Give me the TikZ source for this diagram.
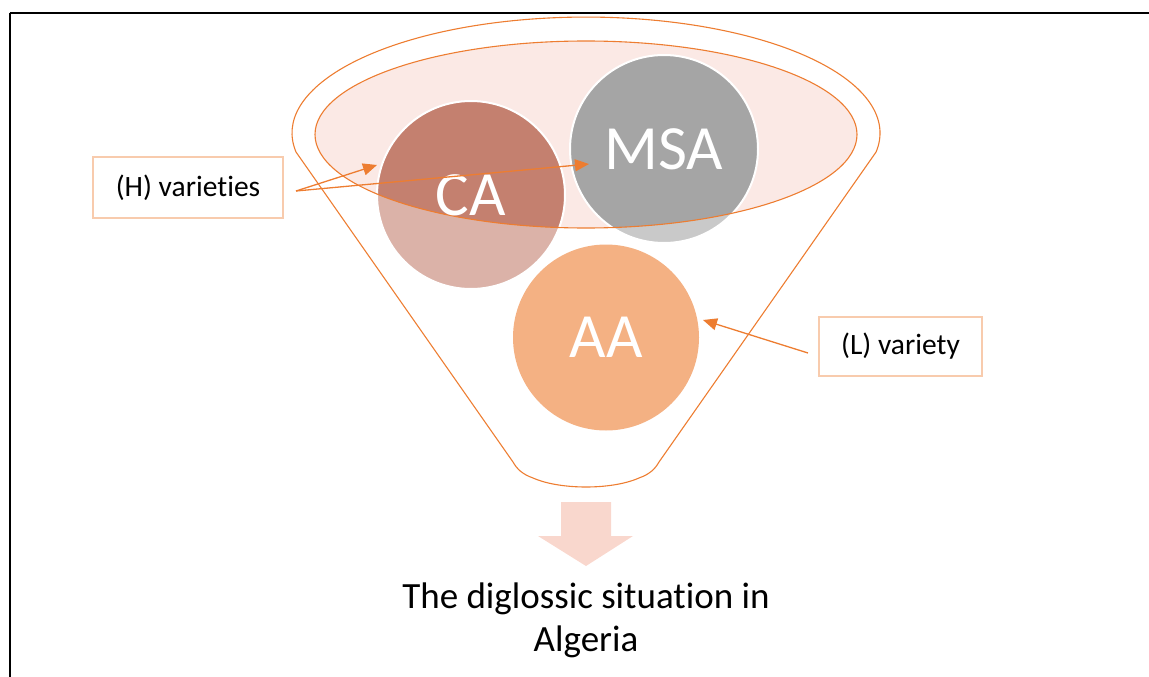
\documentclass[tikz,border=0pt]{standalone}
\usepackage{fontspec}
\setmainfont{Carlito}[Ligatures={NoCommon,NoContextual}]
\usetikzlibrary{arrows.meta}

\definecolor{funnelorange}{HTML}{ED7D31}
\definecolor{rimfill}{HTML}{FBE9E5}
\definecolor{cadark}{HTML}{C4806F}
\definecolor{calight}{HTML}{DBB2A8}
\definecolor{msadark}{HTML}{A5A5A5}
\definecolor{msalight}{HTML}{C9C9C9}
\definecolor{aafill}{HTML}{F4B183}
\definecolor{boxline}{HTML}{F8CBAD}
\definecolor{downfill}{HTML}{F9D7CD}

\tikzset{
  funnelline/.style={draw=funnelorange, line width=1.1pt},
  bubble/.style={circle, minimum size=188pt, inner sep=0pt, text=white,
    font=\fontsize{63}{72}\selectfont},
  labelbox/.style={draw=boxline, line width=1.4pt, inner sep=0pt,
    font=\fontsize{29.5}{34}\selectfont},
  pointer/.style={draw=funnelorange, line width=1.3pt,
    -{Triangle[length=14pt,width=12pt]}},
}

\begin{document}
\begin{tikzpicture}[x=1pt, y=-1pt]
  \useasboundingbox (0,0) rectangle (1149,677);

  % page frame (top and left edges)
  \draw[line width=2pt] (9.5,12.7) -- (1149,12.7);
  \draw[line width=2pt] (9.5,12.7) -- (9.5,677);

  % funnel outline: outer rim, straight sides and rounded bottom
  \draw[funnelline]
    (296,152) arc[start angle=170.6, end angle=369.4, x radius=294, y radius=116]
    -- (659,462)
    .. controls (655,469) and (650,474) .. (639,478)
    .. controls (612,490) and (560,490) .. (533,478)
    .. controls (522,474) and (517,469) .. (513,462)
    -- cycle;

  % inner rim of the funnel
  \fill[rimfill] (586,134.5) ellipse[x radius=271, y radius=93.5];

  % the two (H) circles, darker where they sit inside the rim
  \fill[calight] (471,195) circle[radius=94];
  \fill[msalight] (664,149) circle[radius=94];
  \begin{scope}
    \clip (586,134.5) ellipse[x radius=271, y radius=93.5];
    \fill[cadark] (471,195) circle[radius=94];
    \fill[msadark] (664,149) circle[radius=94];
  \end{scope}
  \draw[white, line width=2pt] (471,195) circle[radius=94];
  \draw[white, line width=2pt] (664,149) circle[radius=94];

  \draw[funnelline] (586,134.5) ellipse[x radius=271, y radius=93.5];

  % (L) circle
  \fill[aafill] (606,337.5) circle[radius=93];

  % circle labels
  \node[bubble] (CA) at (471,195) {CA};
  \node[bubble] (MSA) at (664,149) {MSA};
  \node[bubble, minimum size=186pt] (AA) at (606,337.5) {AA};

  % side labels
  \node[labelbox, minimum width=190pt, minimum height=61pt] (hbox) at (188,187.5) {(H) varieties};
  \node[labelbox, minimum width=163pt, minimum height=59pt] (lbox) at (900.5,346.5) {(L) variety};

  % pointers from the labels
  \coordinate (hfoot) at (296,191);
  \coordinate (catip) at (377,165);
  \coordinate (msatip) at (589,164);
  \coordinate (lfoot) at (808,353);
  \coordinate (aatip) at (703,320);
  \draw[pointer] (hfoot) -- (catip);
  \draw[pointer] (hfoot) -- (msatip);
  \draw[pointer] (lfoot) -- (aatip);

  % outflow arrow and result
  \fill[downfill] (561,502) -- (611,502) -- (611,536) -- (633,536)
    -- (586,566) -- (538,536) -- (561,536) -- cycle;
  \node[align=center, font=\fontsize{37}{43}\selectfont, inner sep=0pt]
    (result) at (586,620) {The diglossic situation in\\Algeria};
\end{tikzpicture}
\end{document}
